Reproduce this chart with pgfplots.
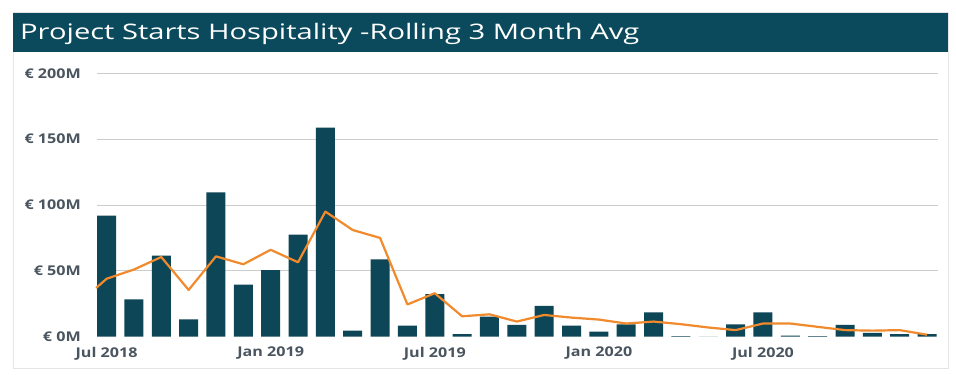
\documentclass[border=0pt]{standalone}
\usepackage{fontspec}
\setmainfont{Open Sans}
\newfontfamily\titlefont[FakeStretch=1.36]{Open Sans}
\newfontfamily\tickfont[FakeStretch=1.2]{Open Sans}
\usepackage{pgfplots}
\pgfplotsset{compat=1.18}
\definecolor{barcol}{HTML}{0D4656}
\definecolor{titlecol}{HTML}{0B4A5C}
\definecolor{linecol}{HTML}{F08A2C}
\definecolor{ticktext}{HTML}{4A5560}
\begin{document}
\begin{tikzpicture}[x=1bp,y=1bp]
\useasboundingbox (0,0) rectangle (956,374);
\fill[white] (0,0) rectangle (956,374);
\draw[gray!20, line width=1bp] (13,6) rectangle (948,361);
\fill[titlecol] (13,322) rectangle (948,361);
\node[anchor=west, text=white, inner sep=0pt, font=\titlefont\fontsize{21.5}{21.5}\selectfont] at (20,340) {Project Starts Hospitality -Rolling 3 Month Avg};
\begin{axis}[
  at={(97bp,37.3bp)}, anchor=south west,
  scale only axis, width=841bp, height=263.4bp,
  xmin=-0.35, xmax=30.4, ymin=0, ymax=200,
  axis line style={draw=none},
  major tick length=0pt,
  ymajorgrids, grid style={gray!40, line width=0.9bp},
  ytick={50,100,150,200},
  yticklabels={€ 50M,€ 100M,€ 150M,€ 200M},
  extra y ticks={0}, extra y tick labels={€ 0M},
  extra y tick style={grid=none},
  xtick={0,6,12,18,24},
  xticklabels={Jul 2018,Jan 2019,Jul 2019,Jan 2020,Jul 2020},
  tick label style={font=\tickfont\bfseries\fontsize{13.5}{13.5}\selectfont, text=ticktext},
  yticklabel style={inner sep=0pt, xshift=-16bp},
  xticklabel style={inner sep=0pt, yshift=-10bp},
  clip=false,
]
\addplot[ybar, bar width=19bp, fill=barcol, draw=none] coordinates {
(0,92) (1,28.4) (2,61.5) (3,13.2) (4,109.6) (5,39.5) (6,50.6) (7,77.5) (8,158.7) (9,4.6)
(10,58.7) (11,8.4) (12,32.4) (13,2) (14,15.2) (15,8.9) (16,23.5) (17,8.4) (18,3.8) (19,9.4)
(20,18.5) (21,0.5) (22,0) (23,9.4) (24,18.5) (25,0.8) (26,0.5) (27,8.9) (28,3) (29,2) (30,2)
};
\addplot[linecol, line width=2.2bp, mark=none, line join=round] coordinates {
(-0.38,37) (0,44) (1,51) (2,60.5) (3,35.5) (4,61) (5,55) (6,66) (7,56.5) (8,95) (9,81)
(10,75) (11,24.5) (12,33) (13,15.5) (14,17) (15,11.5) (16,16.5) (17,14.5) (18,13) (19,10)
(20,11.5) (21,9.5) (22,7) (23,5) (24,10) (25,10) (26,7.5) (27,5) (28,4.6) (29,5) (30,1.5)
};
\end{axis}
\end{tikzpicture}
\end{document}
